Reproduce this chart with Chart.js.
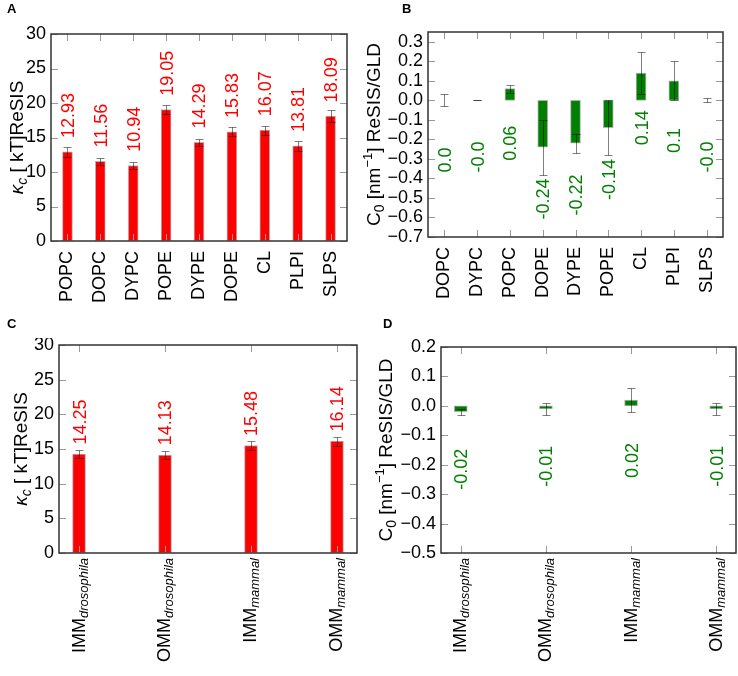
<!DOCTYPE html>
<html>
<head>
<meta charset="utf-8">
<script src="https://cdn.jsdelivr.net/npm/chart.js@4.4.1/dist/chart.umd.min.js"></script>
<style>
  html, body { margin: 0; padding: 0; background: #fff; }
  #wrap { position: relative; width: 738px; height: 676px; overflow: hidden; }
  canvas { position: absolute; }
  .tag { position: absolute; font: bold 13px "Liberation Sans", Arial, sans-serif; line-height: 13px; color: #000; }
</style>
</head>
<body>
<div id="wrap">
  <canvas id="chartA" width="370" height="338" style="left:0;top:0"></canvas>
  <canvas id="chartB" width="378" height="338" style="left:360px;top:0"></canvas>
  <canvas id="chartC" width="370" height="338" style="left:0;top:338px"></canvas>
  <canvas id="chartD" width="378" height="338" style="left:360px;top:338px"></canvas>
  <div class="tag" style="left:7px;top:2px">A</div>
  <div class="tag" style="left:402px;top:2px">B</div>
  <div class="tag" style="left:7px;top:317px">C</div>
  <div class="tag" style="left:383px;top:317px">D</div>
</div>
<script>
// panel A: bending rigidity per lipid
const lipidsA = ['POPC', 'DOPC', 'DYPC', 'POPE', 'DYPE', 'DOPE', 'CL', 'PLPI', 'SLPS'];
const kappaA = [12.93, 11.56, 10.94, 19.05, 14.29, 15.83, 16.07, 13.81, 18.09];
const kappaErrA = [0.7, 0.5, 0.5, 0.7, 0.55, 0.65, 0.65, 0.7, 0.85];

// panel B: spontaneous curvature per lipid
const lipidsB = ['DOPC', 'DYPC', 'POPC', 'DOPE', 'DYPE', 'POPE', 'CL', 'PLPI', 'SLPS'];
const c0B = [0.0, 0.0, 0.06, -0.24, -0.22, -0.14, 0.14, 0.1, 0.0];
const c0ErrB = [0.03, 0.0, 0.02, 0.14, 0.05, 0.14, 0.11, 0.1, 0.01];
const c0TextB = ['0.0', '-0.0', '0.06', '-0.24', '-0.22', '-0.14', '0.14', '0.1', '-0.0'];

// panels C and D: membranes
const membranes = ['IMM', 'OMM', 'IMM', 'OMM'];
const organisms = ['drosophila', 'drosophila', 'mammal', 'mammal'];
const kappaC = [14.25, 14.13, 15.48, 16.14];
const kappaErrC = [0.55, 0.6, 0.65, 0.65];
const c0D = [-0.02, -0.01, 0.02, -0.01];
const c0ErrD = [0.01, 0.02, 0.04, 0.02];

const FAMILY = '"Liberation Sans", Arial, Helvetica, sans-serif';
const RED = '#ff0000';
const GREEN = '#008000';

function fontStr(size, italic) {
  return (italic ? 'italic ' : '') + size + 'px ' + FAMILY;
}

// text rotated -90deg, anchored at (x, y); align is along the reading direction
function drawRich(ctx, segs, x, y, align, color) {
  ctx.save();
  ctx.translate(x, y);
  ctx.rotate(-Math.PI / 2);
  ctx.fillStyle = color;
  ctx.textAlign = 'left';
  ctx.textBaseline = 'alphabetic';
  let total = 0;
  const widths = segs.map(s => {
    ctx.font = fontStr(s.size, s.italic);
    const w = ctx.measureText(s.t).width;
    total += w;
    return w;
  });
  let pos = align === 'center' ? -total / 2 : (align === 'right' ? -total : 0);
  const base = segs[0].size * 0.36 + (segs[0].base || 0);
  segs.forEach((s, i) => {
    ctx.font = fontStr(s.size, s.italic);
    ctx.fillText(s.t, pos, base + (s.dy || 0));
    pos += widths[i];
  });
  ctx.restore();
}

const kappaTitle = [
  { t: 'κ', size: 19, italic: true },
  { t: 'c', size: 14, italic: true, dy: 4 },
  { t: ' [ kT]ReSIS', size: 19 }
];
const c0Title = [
  { t: 'C', size: 19 },
  { t: '0', size: 14, dy: 4 },
  { t: ' [nm', size: 19 },
  { t: '−1', size: 13, dy: -8 },
  { t: '] ReSIS/GLD', size: 19 }
];

function panelPlugin(p) {
  return {
    id: 'panel' + p.name,
    afterDatasetsDraw(chart) {
      const ctx = chart.ctx;
      const meta = chart.getDatasetMeta(0);
      const ys = chart.scales.y;
      ctx.save();
      ctx.strokeStyle = 'rgba(0,0,0,0.5)';
      ctx.lineWidth = 1;
      p.values.forEach((v, i) => {
        const x = Math.round(meta.data[i].x) + 0.5;
        const y1 = Math.round(ys.getPixelForValue(v + p.errs[i])) + 0.5;
        const y2 = Math.round(ys.getPixelForValue(v - p.errs[i])) + 0.5;
        ctx.beginPath();
        ctx.moveTo(x, y1); ctx.lineTo(x, y2);
        ctx.moveTo(x - 4, y1); ctx.lineTo(x + 4, y1);
        ctx.moveTo(x - 4, y2); ctx.lineTo(x + 4, y2);
        ctx.stroke();
      });
      ctx.restore();
      p.texts.forEach((t, i) => {
        const y = ys.getPixelForValue(p.values[i] + p.labelShift);
        drawRich(ctx, [{ t: t, size: 18 }], meta.data[i].x, y, 'left', p.labelColor);
      });
    },
    afterDraw(chart) {
      const ctx = chart.ctx;
      const a = chart.chartArea;
      const xs = chart.scales.x;
      const ys = chart.scales.y;
      ctx.save();
      ctx.strokeStyle = '#999';
      ctx.lineWidth = 1;
      ctx.beginPath();
      ys.ticks.forEach(t => {
        const y = Math.round(ys.getPixelForValue(t.value)) + 0.5;
        ctx.moveTo(a.left, y); ctx.lineTo(a.left + 7, y);
        ctx.moveTo(a.right, y); ctx.lineTo(a.right - 7, y);
      });
      p.values.forEach((v, i) => {
        const x = Math.round(xs.getPixelForValue(i)) + 0.5;
        ctx.moveTo(x, a.top); ctx.lineTo(x, a.top + 7);
        ctx.moveTo(x, a.bottom); ctx.lineTo(x, a.bottom - 7);
      });
      ctx.stroke();
      ctx.strokeStyle = '#333';
      ctx.lineWidth = 1.5;
      ctx.strokeRect(a.left, a.top, a.right - a.left, a.bottom - a.top);
      ctx.restore();

      drawRich(ctx, p.yTitle, p.titleX, (a.top + a.bottom) / 2, 'center', '#000');

      if (p.richLabels) {
        p.richLabels.forEach((segs, i) => {
          drawRich(ctx, segs, xs.getPixelForValue(i), a.bottom + 5, 'right', '#000');
        });
      }
    }
  };
}

function buildChart(p) {
  const canvas = document.getElementById(p.id);
  const W = canvas.width, H = canvas.height;
  const linear = !!p.xRange;
  const axisFont = { family: FAMILY, size: 18 };

  const xScale = linear ? {
    type: 'linear', min: p.xRange[0], max: p.xRange[1], offset: false,
    grid: { display: false, drawTicks: false, offset: false }, border: { display: false },
    ticks: { display: false }
  } : {
    type: 'category', offset: true,
    grid: { display: false, drawTicks: false }, border: { display: false },
    ticks: { autoSkip: false, minRotation: 90, maxRotation: 90, padding: 10, color: '#000', font: axisFont }
  };
  xScale.afterFit = s => { s.height = H - p.area.b; s.paddingLeft = 0; s.paddingRight = 0; };

  const data = linear
    ? { datasets: [] }
    : { labels: p.labels, datasets: [] };
  data.datasets.push({
    data: linear ? p.values.map((v, i) => ({ x: i, y: v })) : p.values,
    backgroundColor: p.barColor,
    borderColor: 'rgba(0,0,0,0.3)',
    borderWidth: 1,
    borderSkipped: false,
    barThickness: p.barWidth
  });

  return new Chart(canvas, {
    type: 'bar',
    data: data,
    options: {
      responsive: false,
      animation: false,
      devicePixelRatio: 1,
      layout: { padding: { left: 0, top: p.area.t, right: W - p.area.r, bottom: 0 } },
      plugins: { legend: { display: false }, tooltip: { enabled: false } },
      scales: {
        x: xScale,
        y: {
          type: 'linear', min: p.yMin, max: p.yMax,
          grid: { display: false, drawTicks: false }, border: { display: false },
          ticks: {
            autoSkip: false, maxTicksLimit: 30, stepSize: p.yStep, padding: 5,
            color: '#000', font: axisFont, callback: p.tickFmt
          },
          // fixed tick set: yMin .. yTop every yStep
          afterBuildTicks(s) {
            const out = [];
            for (let k = 0; ; k++) {
              const v = Math.round((p.yMin + k * p.yStep) * 1000) / 1000;
              if (v > p.yTop + 1e-9) break;
              out.push({ value: v });
            }
            s.ticks = out;
          },
          afterFit(s) { s.width = p.area.l; s.paddingTop = 0; s.paddingBottom = 0; }
        }
      }
    },
    plugins: [panelPlugin(p)]
  });
}

const intFmt = v => String(Math.round(v));
const decFmt = v => (v < -1e-9 ? '−' : '') + Math.abs(v).toFixed(1);
const memLabels = membranes.map((m, i) => [
  { t: m, size: 18, base: -1 },
  { t: organisms[i], size: 13, italic: true, dy: 3 }
]);

buildChart({
  name: 'A', id: 'chartA', area: { l: 51, t: 34, r: 347, b: 241 },
  labels: lipidsA, values: kappaA, errs: kappaErrA, texts: kappaA.map(v => v.toFixed(2)),
  yMin: 0, yMax: 30, yTop: 30, yStep: 5, tickFmt: intFmt,
  barColor: RED, labelColor: RED, labelShift: 2.0, barWidth: 10,
  yTitle: kappaTitle, titleX: 16
});

buildChart({
  name: 'B', id: 'chartB', area: { l: 68, t: 32, r: 363, b: 237 },
  labels: lipidsB, values: c0B, errs: c0ErrB, texts: c0TextB,
  yMin: -0.7, yMax: 0.35, yTop: 0.3, yStep: 0.1, tickFmt: decFmt,
  barColor: GREEN, labelColor: GREEN, labelShift: -0.37, barWidth: 10,
  yTitle: c0Title, titleX: 13
});

buildChart({
  name: 'C', id: 'chartC', area: { l: 59, t: 7, r: 357, b: 215 },
  xRange: [-0.233, 3.233], values: kappaC, errs: kappaErrC, texts: kappaC.map(v => v.toFixed(2)),
  yMin: 0, yMax: 30, yTop: 30, yStep: 5, tickFmt: intFmt,
  barColor: RED, labelColor: RED, labelShift: 1.4, barWidth: 13,
  yTitle: kappaTitle, titleX: 20, richLabels: memLabels
});

buildChart({
  name: 'D', id: 'chartD', area: { l: 81, t: 9, r: 376, b: 215 },
  xRange: [-0.232, 3.232], values: c0D, errs: c0ErrD, texts: c0D.map(v => v.toFixed(2)),
  yMin: -0.5, yMax: 0.2, yTop: 0.2, yStep: 0.1, tickFmt: decFmt,
  barColor: GREEN, labelColor: GREEN, labelShift: -0.265, barWidth: 13,
  yTitle: c0Title, titleX: 25, richLabels: memLabels
});
</script>
</body>
</html>
